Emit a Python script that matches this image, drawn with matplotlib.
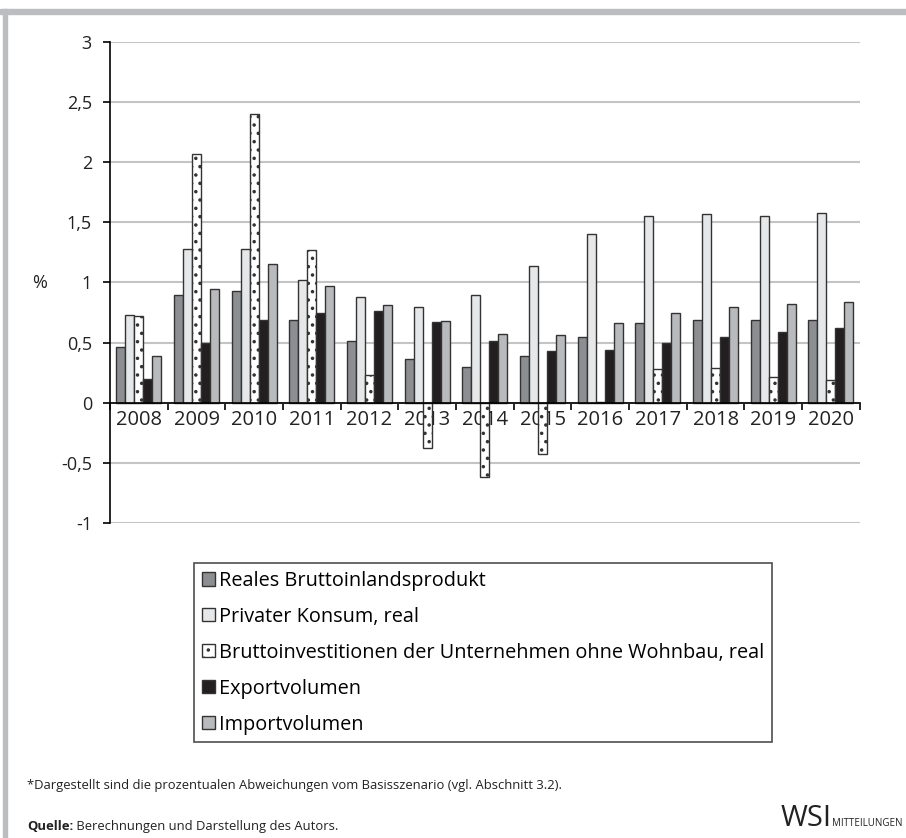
import numpy as np
import matplotlib.pyplot as plt
from matplotlib.patches import Rectangle
from matplotlib.ticker import FuncFormatter

plt.rcParams['font.family'] = ['Open Sans', 'DejaVu Sans']
plt.rcParams['hatch.linewidth'] = 1.3

years = ['2008', '2009', '2010', '2011', '2012', '2013', '2014',
         '2015', '2016', '2017', '2018', '2019', '2020']

bip = [0.46, 0.90, 0.93, 0.69, 0.51, 0.36, 0.30, 0.39, 0.55, 0.66, 0.69, 0.69, 0.69]
konsum = [0.73, 1.28, 1.28, 1.02, 0.88, 0.80, 0.90, 1.14, 1.40, 1.55, 1.57, 1.55, 1.58]
invest = [0.72, 2.07, 2.40, 1.27, 0.23, -0.38, -0.62, -0.43, 0.01, 0.28, 0.29, 0.21, 0.19]
export = [0.20, 0.50, 0.69, 0.75, 0.76, 0.67, 0.51, 0.43, 0.44, 0.50, 0.55, 0.59, 0.62]
importv = [0.39, 0.95, 1.15, 0.97, 0.81, 0.68, 0.57, 0.56, 0.66, 0.75, 0.80, 0.82, 0.84]

labels = ['Reales Bruttoinlandsprodukt',
          'Privater Konsum, real',
          'Bruttoinvestitionen der Unternehmen ohne Wohnbau, real',
          'Exportvolumen',
          'Importvolumen']
series = [bip, konsum, invest, export, importv]
colors = ['#8d8e91', '#e6e7e8', 'white', '#231f20', '#b9babd']
hatches = [None, None, '..', None, None]

fig = plt.figure(figsize=(9.06, 8.38), dpi=100)
ax = fig.add_axes([0.1214, 0.3759, 0.8276, 0.574])

x = np.arange(len(years))
w = 0.156
handles = []
for i, (vals, col, h, lab) in enumerate(zip(series, colors, hatches, labels)):
    b = ax.bar(x + (i - 2) * w, vals, w, color=col, edgecolor='#333333',
               linewidth=1.0, hatch=h, label=lab, zorder=3)
    handles.append(b)

ax.set_xlim(-0.5, len(years) - 0.5)
ax.set_ylim(-1, 3)
ax.set_yticks(np.arange(-1, 3.01, 0.5))
ax.yaxis.set_major_formatter(FuncFormatter(
    lambda v, p: ('%g' % v).replace('.', ',')))
ax.grid(axis='y', color='#c4c4c4', linewidth=1.5, zorder=0)
ax.set_axisbelow(True)

ax.spines['top'].set_visible(False)
ax.spines['right'].set_visible(False)
ax.spines['bottom'].set_position(('data', 0))
ax.spines['bottom'].set_zorder(4)
ax.spines['left'].set_linewidth(1.2)
ax.spines['bottom'].set_linewidth(1.2)

ax.set_xticks(x)
ax.set_xticklabels(years)
ax.set_xticks(np.arange(-0.5, len(years)), minor=True)
ax.tick_params(axis='x', which='major', length=0, pad=5, labelsize=14.5)
ax.tick_params(axis='x', which='minor', length=5, width=1.2, direction='out')
ax.tick_params(axis='y', length=5, width=1.2, pad=8, labelsize=13)
for t in ax.get_xticklabels() + ax.get_yticklabels():
    t.set_color('#222222')

fig.text(40 / 906, 1 - 283 / 838, '%', fontsize=13, ha='center', va='center',
         color='#222222')

leg = fig.legend(handles, labels, loc='upper left',
                 bbox_to_anchor=(194 / 906, 1 - 563 / 838), fontsize=14.3,
                 frameon=True, fancybox=False, edgecolor='#222222',
                 handlelength=0.65, handleheight=0.65, handletextpad=0.2,
                 labelspacing=0.8, borderpad=0.4, borderaxespad=0)
leg.get_frame().set_linewidth(1.2)

# Rahmen oben und links
fig.patches.append(Rectangle((0, 1 - 14 / 838), 1, 5 / 838,
                             transform=fig.transFigure, color='#bcbdc0'))
fig.patches.append(Rectangle((3 / 906, 0), 4 / 906, 1 - 9 / 838,
                             transform=fig.transFigure, color='#bcbdc0'))

fig.text(27 / 906, 1 - 785 / 838,
         '*Dargestellt sind die prozentualen Abweichungen vom Basisszenario (vgl. Abschnitt 3.2).',
         fontsize=9.4, va='center', color='#222222')
q = fig.text(27 / 906, 1 - 826 / 838, 'Quelle:', fontsize=9.4, va='center',
             fontweight='bold', color='#222222')
plt.annotate(' Berechnungen und Darstellung des Autors.', xy=(1, 0.5),
             xycoords=q, va='center', ha='left', fontsize=9.4, color='#222222')
fig.text(781 / 906, 1 - 818 / 838, 'WSI', fontsize=21, va='center',
         color='#222222')
fig.text(832 / 906, 1 - 823 / 838, 'MITTEILUNGEN', fontsize=7, va='center',
         color='#222222')

fig.savefig('out.png', dpi=100)
